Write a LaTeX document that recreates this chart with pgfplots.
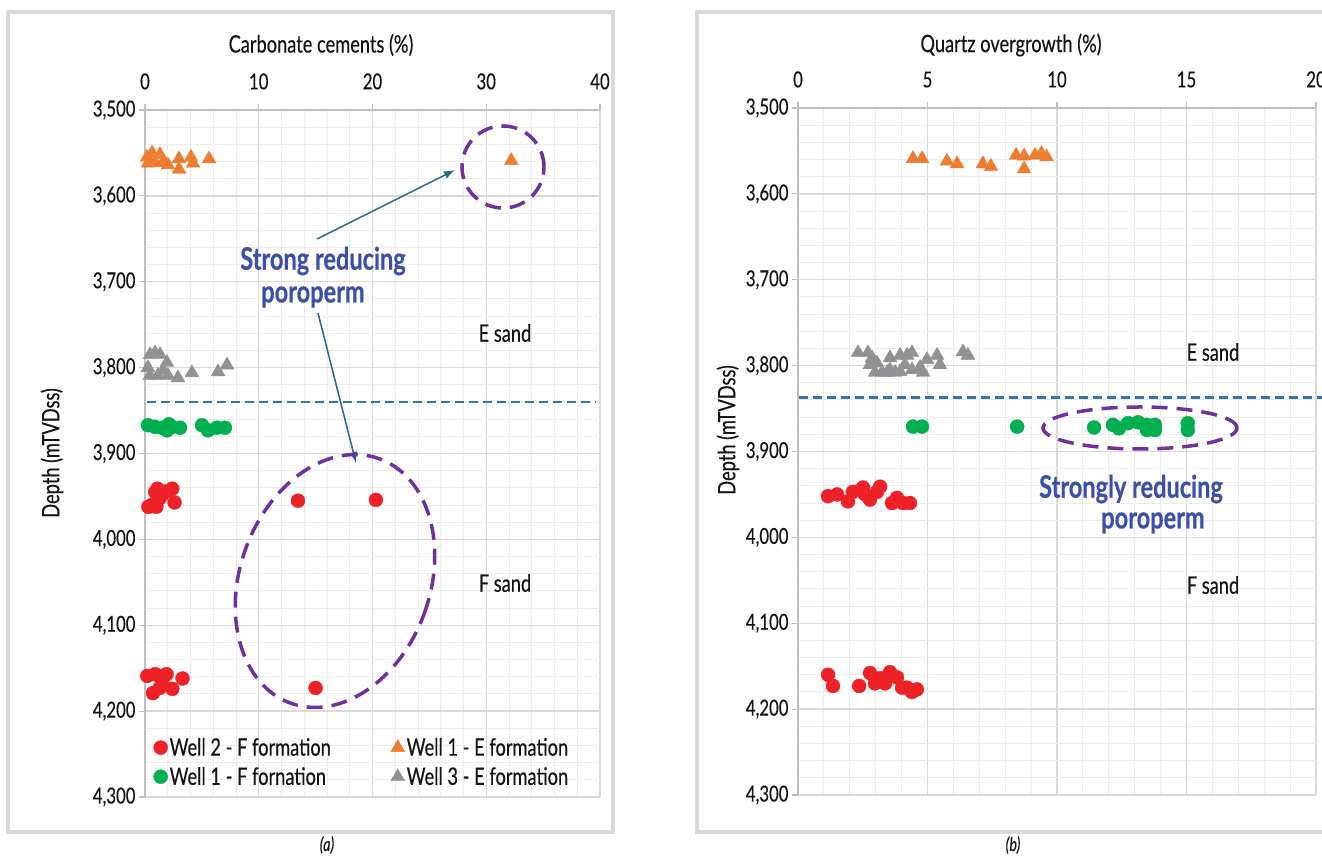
\documentclass[border=0pt]{standalone}
\usepackage{fontspec}
\setmainfont{Lato}[FakeStretch=0.76, FakeBold=0.35]
\usepackage{pgfplots}
\pgfplotsset{compat=1.18}
\usetikzlibrary{arrows.meta}

\definecolor{wred}{RGB}{237,33,39}
\definecolor{worange}{RGB}{237,125,49}
\definecolor{wgreen}{RGB}{0,176,80}
\definecolor{wgray}{RGB}{145,146,150}
\definecolor{cutoff}{RGB}{46,117,182}
\definecolor{ringc}{RGB}{112,48,160}
\definecolor{notec}{RGB}{59,78,168}
\definecolor{arrowc}{RGB}{38,104,133}
\definecolor{framec}{RGB}{217,217,217}
\definecolor{gridmaj}{RGB}{217,217,217}
\definecolor{gridmin}{RGB}{236,236,236}
\definecolor{axisc}{RGB}{191,191,191}
\definecolor{txt}{RGB}{20,20,20}

\newcommand{\ticksize}{\fontsize{22bp}{26bp}\selectfont}
\newcommand{\textsz}{\fontsize{24bp}{28bp}\selectfont}
\newcommand{\notesize}{\fontsize{31bp}{36bp}\selectfont\bfseries}

\pgfplotsset{
  wellaxis/.style={
    scale only axis,
    y dir=reverse,
    axis x line*=top, axis y line*=left,
    axis line style={draw=axisc, line width=1.2bp},
    grid=both,
    major grid style={draw=gridmaj, line width=1.3bp},
    minor grid style={draw=gridmin, line width=1bp},
    tick align=outside,
    major tick length=6bp, minor tick length=0bp,
    every major tick/.append style={draw=axisc, line width=1.2bp},
    tick label style={font=\ticksize, text=txt},
    xticklabel style={yshift=11bp},
    /pgf/number format/1000 sep={,},
    /pgf/number format/assume math mode=true,
    ymin=3500, ymax=4300,
    ytick={3500,3600,...,4300}, minor y tick num=4,
    minor x tick num=4,
  },
  red pts/.style={only marks, mark=*, mark size=7bp, color=wred, mark options={draw=wred, fill=wred}},
  green pts/.style={only marks, mark=*, mark size=7bp, color=wgreen, mark options={draw=wgreen, fill=wgreen}},
  orange pts/.style={only marks, mark=triangle*, mark size=8bp, color=worange, mark options={draw=worange, fill=worange}},
  gray pts/.style={only marks, mark=triangle*, mark size=8bp, color=wgray, mark options={draw=wgray, fill=wgray}},
  cut line/.style={cutoff, line width=2.5bp, dash pattern=on 9bp off 5bp, forget plot},
}

\begin{document}
\begin{tikzpicture}
\useasboundingbox (0,0) rectangle (1322bp,857bp);
\clip (0,0) rectangle (1322bp,857bp);

% panel frames
\begin{scope}[x=1bp,y=-1bp,yshift=857bp]
  \draw[framec, line width=4bp] (8,12) rectangle (613,832);
  \draw[framec, line width=4bp] (697,12) rectangle (1345,832);
\end{scope}

% (a) carbonate cements
\begin{axis}[
  wellaxis,
  at={(145bp,60bp)}, anchor=south west,
  width=455bp, height=687bp,
  xmin=0, xmax=40, xtick={0,10,...,40},
  legend columns=2,
  legend cell align=left,
  legend style={at={(0.012,0.092)}, anchor=north west, draw=none, fill=none,
    font=\textsz, text=txt, row sep=6bp,
    /tikz/every even column/.append style={column sep=58bp}},
  legend image code/.code={\draw[#1] plot coordinates {(0bp,0bp)};},
]
\addplot[red pts] coordinates {
  (0.3,3962) (0.6,3960) (0.9,3945) (1.1,3941) (1.3,3952) (1.5,3948)
  (1.9,3944) (2.4,3941) (2.6,3957) (1.0,3962)
  (13.45,3955) (20.3,3954) (15.0,4173)
  (0.2,4159) (0.9,4157) (1.9,4157) (3.3,4162) (0.7,4179) (1.3,4173)
  (2.4,4174) (1.5,4166)
};
\addlegendentry{Well 2 - F formation}
\addplot[orange pts] coordinates {
  (0.18,3555) (0.62,3550) (0.26,3562) (0.88,3561) (1.32,3552) (1.58,3561)
  (2.02,3564) (2.99,3557) (2.99,3569) (4.04,3555) (4.22,3562) (5.63,3557)
  (32.2,3559)
};
\addlegendentry{Well 1 - E formation}
\addplot[green pts] coordinates {
  (0.26,3867) (0.88,3869) (1.49,3870) (2.37,3869) (1.93,3873) (3.08,3870)
  (2.1,3866) (5.01,3867) (5.54,3873) (6.33,3870) (7.03,3870)
};
\addlegendentry{Well 1 - F fornation}
\addplot[gray pts] coordinates {
  (0.44,3785) (0.88,3783) (1.32,3785) (1.93,3794) (0.26,3800) (0.44,3809)
  (1.14,3809) (1.58,3803) (2.02,3809) (2.90,3812) (4.13,3806) (6.42,3805)
  (7.21,3797)
};
\addlegendentry{Well 3 - E formation}
\addplot[cut line] coordinates {(0.2,3840) (39.6,3840)};
\end{axis}

% (b) quartz overgrowth
\begin{axis}[
  wellaxis,
  at={(798bp,62bp)}, anchor=south west,
  width=518bp, height=687bp,
  xmin=0, xmax=20, xtick={0,5,...,20},
  clip=false,
]
\addplot[red pts] coordinates {
  (1.16,3952) (1.51,3950) (1.93,3958) (2.12,3947) (2.51,3942) (2.59,3950)
  (2.78,3956) (3.17,3941) (3.05,3947) (3.63,3960) (3.82,3954) (4.05,3960)
  (4.32,3960)
  (1.16,4160) (1.35,4173) (2.36,4173) (2.78,4158) (2.97,4170) (3.17,4164)
  (3.36,4170) (3.55,4157) (3.82,4163) (4.02,4175) (4.21,4175) (4.40,4180)
  (4.59,4177)
};
\addplot[orange pts] coordinates {
  (4.44,3559) (4.79,3559) (5.75,3562) (6.14,3565) (7.14,3565) (7.45,3568)
  (8.42,3555) (8.73,3556) (8.73,3571) (9.15,3555) (9.4,3553) (9.6,3557)
};
\addplot[green pts] coordinates {
  (4.44,3871) (4.79,3871) (8.46,3871) (11.43,3872) (12.16,3869) (12.39,3873)
  (12.74,3867) (13.13,3866) (13.47,3869) (13.47,3875) (13.78,3869) (13.78,3875)
  (15.05,3867) (15.05,3875)
};
\addplot[gray pts] coordinates {
  (2.32,3785) (2.70,3785) (2.86,3791) (3.05,3797) (2.78,3799) (2.97,3808)
  (3.24,3808) (3.55,3791) (3.55,3805) (3.75,3808) (3.94,3788) (4.21,3788)
  (4.40,3785) (4.13,3799) (4.40,3805) (4.71,3802) (4.83,3808) (4.98,3793)
  (5.37,3788) (5.48,3799) (6.37,3784) (6.56,3788) (3.94,3807) (3.44,3808)
};
\addplot[cut line] coordinates {(0.05,3837) (21,3837)};
\end{axis}

% titles, labels and notes
\begin{scope}[x=1bp,y=-1bp,yshift=857bp]
  \node[font=\textsz, text=txt] at (321,45) {Carbonate cements (\%)};
  \node[font=\textsz, text=txt] at (1011,45) {Quartz overgrowth (\%)};
  \node[font=\textsz, text=txt, rotate=90] at (52,453) {Depth (mTVDss)};
  \node[font=\textsz, text=txt, rotate=90] at (728,430) {Depth (mTVDss)};
  \node[font=\fontsize{19bp}{22bp}\selectfont\itshape, text=txt] at (327,845) {(a)};
  \node[font=\fontsize{19bp}{22bp}\selectfont\itshape, text=txt] at (1013,845) {(b)};

  \node[font=\textsz, text=txt] at (505,333) {E sand};
  \node[font=\textsz, text=txt] at (505,583) {F sand};
  \node[font=\textsz, text=txt] at (1213,352) {E sand};
  \node[font=\textsz, text=txt] at (1213,585) {F sand};

  \node[font=\notesize, text=notec] at (323,261) {Strong reducing};
  \node[font=\notesize, text=notec] at (313,297) {poroperm};
  \node[font=\notesize, text=notec] at (1131,489) {Strongly reducing};
  \node[font=\notesize, text=notec] at (1153,523) {poroperm};

  \draw[arrowc, line width=1.5bp, -{Latex[length=11bp,width=8bp]}] (317,239) -- (455,170);
  \draw[arrowc, line width=1.5bp, -{Latex[length=11bp,width=8bp]}] (318,313) -- (356,463);

  \draw[ringc, line width=3.5bp, dash pattern=on 16bp off 9bp] (503,167) circle [radius=41bp];
  \draw[ringc, line width=3.5bp, dash pattern=on 16bp off 9bp] (335,581) circle [x radius=95bp, y radius=130bp, rotate=-20];
  \draw[ringc, line width=3.5bp, dash pattern=on 16bp off 9bp] (1140,428) circle [x radius=97bp, y radius=21bp];
\end{scope}
\end{tikzpicture}
\end{document}
